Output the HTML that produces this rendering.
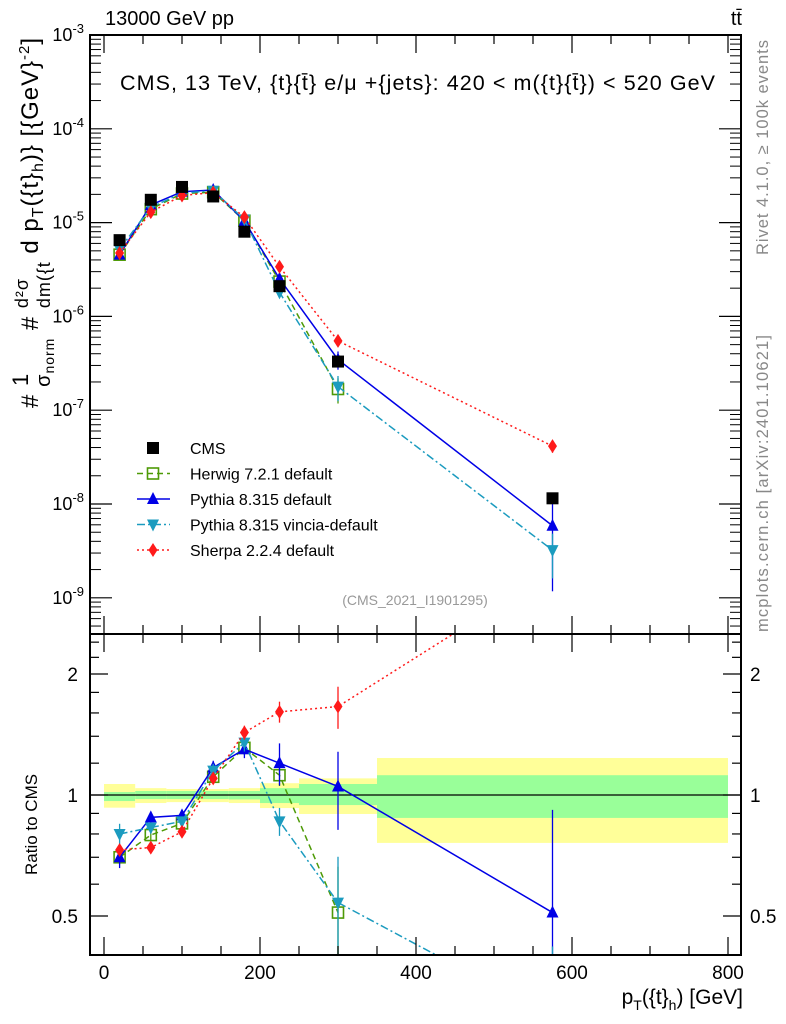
<!DOCTYPE html>
<html><head><meta charset="utf-8"><style>
html,body{margin:0;padding:0;background:#fff;overflow:hidden;width:786px;height:1024px}
#wrap{position:relative;width:786px;height:1024px;overflow:hidden}
svg{font-family:"Liberation Sans",sans-serif;display:block}
</style></head><body>
<div id="wrap">
<svg id="s" width="786" height="1024" xmlns="http://www.w3.org/2000/svg"></svg>
<svg width="786" height="1024" style="position:absolute;left:0;top:0" xmlns="http://www.w3.org/2000/svg" font-family="Liberation Sans, sans-serif">
<text x="105" y="25" font-size="20">13000 GeV pp</text>
<text x="742" y="25" font-size="20" text-anchor="end">tt̄</text>
<text x="120" y="90" font-size="21.5" textLength="595">CMS, 13 TeV, {t}{t̄} e/μ +{jets}: 420 &lt; m({t}{t̄}) &lt; 520 GeV</text>
<text x="415" y="605" font-size="14" fill="#999" text-anchor="middle">(CMS_2021_I1901295)</text>
<text transform="translate(768,255) rotate(-90)" font-size="16.5" fill="#888" textLength="215">Rivet 4.1.0, ≥ 100k events</text>
<text transform="translate(768,632) rotate(-90)" font-size="16.5" fill="#888" textLength="297">mcplots.cern.ch [arXiv:2401.10621]</text>
<text transform="translate(38,408) rotate(-90)" font-size="24" textLength="370"># <tspan font-size="22" dy="-10">1</tspan><tspan dx="-14" dy="22" font-size="20">σ</tspan><tspan font-size="14" dy="4">norm</tspan><tspan dy="-16"> # </tspan><tspan font-size="18" dy="-10">d²σ</tspan><tspan font-size="18" dx="-30" dy="22">dm({t</tspan><tspan dy="-12"> d p</tspan><tspan font-size="16" dy="5">T</tspan><tspan dy="-5">({t}</tspan><tspan font-size="16" dy="5">h</tspan><tspan dy="-5">)} [{GeV}</tspan><tspan font-size="15" dy="-9">-2</tspan><tspan dy="9">]</tspan></text>
<text transform="translate(37,875) rotate(-90)" font-size="17">Ratio to CMS</text>
<text x="743" y="1004" font-size="21" text-anchor="end">p<tspan font-size="14" dy="6">T</tspan><tspan dy="-6">({t}</tspan><tspan font-size="14" dy="6">h</tspan><tspan dy="-6">) [GeV]</tspan></text>
</svg>
</div>
<script>
const xs=[20,60,100,140,180,225,300,575];
const binEdges=[0,40,80,120,160,200,250,350,800];
const cms=[6.5e-6,1.75e-5,2.4e-5,1.9e-5,8e-6,2.1e-6,3.3e-7,1.15e-8];
const herwigR=[0.70,0.795,0.85,1.11,1.31,1.12,0.51,null];
const pythiaR=[0.70,0.88,0.89,1.17,1.30,1.20,1.05,0.51];
const vinciaR=[0.80,0.83,0.86,1.15,1.35,0.86,0.54,0.28];
const sherpaR=[0.73,0.74,0.81,1.10,1.43,1.61,1.66,3.6];
const pythiaErr=[0.06,0.03,0.03,0.04,0.05,0.12,0.22,0.8];
const vinciaErr=[0.06,0.03,0.02,0.04,0.05,0.08,0.3,0.5];
const herwigErr=[0.04,0.03,0.02,0.03,0.04,0.06,0.3,0];
const sherpaErr=[0.03,0.03,0.02,0.03,0.04,0.06,0.12,0.15];
const yelLo=[0.93,0.955,0.96,0.96,0.955,0.928,0.897,0.76];
const yelHi=[1.065,1.04,1.035,1.035,1.04,1.07,1.10,1.236];
const grnLo=[0.966,0.977,0.977,0.977,0.975,0.955,0.944,0.877];
const grnHi=[1.017,1.023,1.023,1.023,1.023,1.04,1.065,1.12];
const xTicks=[0,200,400,600,800];
const yDecades=[-3,-4,-5,-6,-7,-8,-9];
const rTicks=[2,1,0.5];

const S=document.getElementById('s');const NS='http://www.w3.org/2000/svg';
function el(t,a,p){const e=document.createElementNS(NS,t);for(const k in a)e.setAttribute(k,a[k]);(p||S).appendChild(e);return e;}
const X=v=>104+v*0.78;
const Y=v=>35+(-3-Math.log10(v))*93.8;
const R=v=>795-402*Math.log10(v);
const L=90,Rt=741,T=35,M=634,B=955;
const clamp=(y,a,b)=>Math.min(Math.max(y,a),b);

const defs=el('defs',{});
const c1=el('clipPath',{id:'cm'},defs);el('rect',{x:L,y:T,width:Rt-L,height:M-T},c1);
const c2=el('clipPath',{id:'cr'},defs);el('rect',{x:L,y:M,width:Rt-L,height:B-M},c2);

const gb=el('g',{'clip-path':'url(#cr)'});

for(let i=0;i<8;i++){
 const x0=X(binEdges[i]),x1=X(binEdges[i+1]);
 const y1=el('rect',{x:x0,y:R(yelHi[i]),width:x1-x0,height:R(yelLo[i])-R(yelHi[i]),fill:'#ffff99'},gb);
 
 const g1=el('rect',{x:x0,y:R(grnHi[i]),width:x1-x0,height:R(grnLo[i])-R(grnHi[i]),fill:'#99ff99'},gb);
 
}
el('line',{x1:L,x2:Rt,y1:R(1),y2:R(1),stroke:'#000','stroke-width':1.2});

function marker(g,type,x,y,col){
 const s=6;let e;
 if(type=='sq')e=el('rect',{x:x-s,y:y-s,width:2*s,height:2*s,fill:col},g);
 else if(type=='osq')e=el('rect',{x:x-5.5,y:y-5.5,width:11,height:11,fill:'none',stroke:col,'stroke-width':1.6},g);
 else if(type=='tu')e=el('polygon',{points:`${x},${y-7} ${x-6},${y+5} ${x+6},${y+5}`,fill:col},g);
 else if(type=='td')e=el('polygon',{points:`${x},${y+7} ${x-6},${y-5} ${x+6},${y-5}`,fill:col},g);
 else e=el('polygon',{points:`${x},${y-7} ${x-4.5},${y} ${x},${y+7} ${x+4.5},${y}`,fill:col},g);
 
}
const series=[
 {n:'herwig',r:herwigR,e:herwigErr,c:'#4e9a06',m:'osq',d:'6,4'},
 {n:'pythia',r:pythiaR,e:pythiaErr,c:'#0000e6',m:'tu',d:''},
 {n:'vincia',r:vinciaR,e:vinciaErr,c:'#1b9bbf',m:'td',d:'8,3,2,3'},
 {n:'sherpa',r:sherpaR,e:sherpaErr,c:'#ff1a1a',m:'dm',d:'2,3'}];
function drawSeries(panel,clip,fy,val,top,bot){
 series.forEach(s=>{
  const g=el('g',{'clip-path':`url(#${clip})`});
  
  const pts=[];xs.forEach((x,i)=>{if(s.r[i]!=null)pts.push(X(x)+','+fy(val(s,i)));});
  el('polyline',{points:pts.join(' '),fill:'none',stroke:s.c,'stroke-width':1.5,'stroke-dasharray':s.d},g);
  xs.forEach((x,i)=>{if(s.r[i]==null)return;const v=val(s,i);const px=X(x);
   el('line',{x1:px,x2:px,y1:clamp(fy(v*(1+s.e[i])),top,bot),y2:clamp(fy(Math.max(v*(1-s.e[i]),1e-12)),top,bot),stroke:s.c,'stroke-width':1.3},g);
   marker(g,s.m,px,fy(v),s.c);});
 });
}
drawSeries('main','cm',Y,(s,i)=>s.r[i]*cms[i],T,M);
drawSeries('ratio','cr',R,(s,i)=>s.r[i],M,B);
const gc=el('g',{'clip-path':'url(#cm)'});

xs.forEach((x,i)=>marker(gc,'sq',X(x),Y(cms[i]),'#000'));

el('rect',{x:L,y:T,width:Rt-L,height:M-T,fill:'none',stroke:'#000','stroke-width':2});
el('rect',{x:L,y:M,width:Rt-L,height:B-M,fill:'none',stroke:'#000','stroke-width':2});
function txt(x,y,t,sz,a){const e=el('text',{x:x,y:y,'font-size':sz,'text-anchor':a||'start'});e.textContent=t;return e;}
yDecades.forEach(d=>{const y=Y(Math.pow(10,d));
 el('line',{x1:L,x2:L+22,y1:y,y2:y,stroke:'#000','stroke-width':1.2});
 el('line',{x1:Rt,x2:Rt-22,y1:y,y2:y,stroke:'#000','stroke-width':1.2});
 const t=el('text',{x:84,y:y+6,'font-size':18,'text-anchor':'end'});
 
 t.innerHTML='10<tspan dy="-8" font-size="13">'+d+'</tspan>';
 for(let k=2;k<10;k++){const yy=Y(k*Math.pow(10,d-1));if(yy>M||yy<T)continue;
  el('line',{x1:L,x2:L+11,y1:yy,y2:yy,stroke:'#000'});el('line',{x1:Rt,x2:Rt-11,y1:yy,y2:yy,stroke:'#000'});}
});
for(let v=0;v<=800;v+=50){const x=X(v);const big=v%200==0;
 el('line',{x1:x,x2:x,y1:B,y2:B-(big?18:9),stroke:'#000','stroke-width':1.2});
 el('line',{x1:x,x2:x,y1:M,y2:M+(big?18:9),stroke:'#000','stroke-width':1.2});
 el('line',{x1:x,x2:x,y1:T,y2:T+(big?18:9),stroke:'#000','stroke-width':1.2});
 el('line',{x1:x,x2:x,y1:M,y2:M-(big?18:9),stroke:'#000','stroke-width':1.2});
}
xTicks.forEach(v=>{const t=txt(X(v),979,String(v),19,'middle');
 });
[0.4,0.5,0.6,0.7,0.8,0.9,1,1.2,1.4,1.6,1.8,2,2.2,2.4].forEach(v=>{const y=R(v);if(y>B)return;const big=rTicks.includes(v);
 el('line',{x1:L,x2:L+(big?18:9),y1:y,y2:y,stroke:'#000','stroke-width':1.2});
 el('line',{x1:Rt,x2:Rt-(big?18:9),y1:y,y2:y,stroke:'#000','stroke-width':1.2});});
rTicks.forEach(v=>{const a=txt(78,R(v)+7,String(v),19,'end');
 const b=txt(750,R(v)+7,String(v),19,'start');});

const leg=[['CMS','sq','#000',''],['Herwig 7.2.1 default','osq','#4e9a06','6,4'],['Pythia 8.315 default','tu','#0000e6',''],['Pythia 8.315 vincia-default','td','#1b9bbf','8,3,2,3'],['Sherpa 2.2.4 default','dm','#ff1a1a','2,3']];
leg.forEach((l,i)=>{const y=448+i*25.5;const g=el('g',{});
 
 if(i>0)el('line',{x1:137,x2:170,y1:y,y2:y,stroke:l[2],'stroke-width':1.5,'stroke-dasharray':l[3]},g);
 marker(g,l[1],153,y,l[2]);
 const t=el('text',{x:190,y:y+6,'font-size':16},g);t.textContent=l[0];});
</script>
</body></html>
